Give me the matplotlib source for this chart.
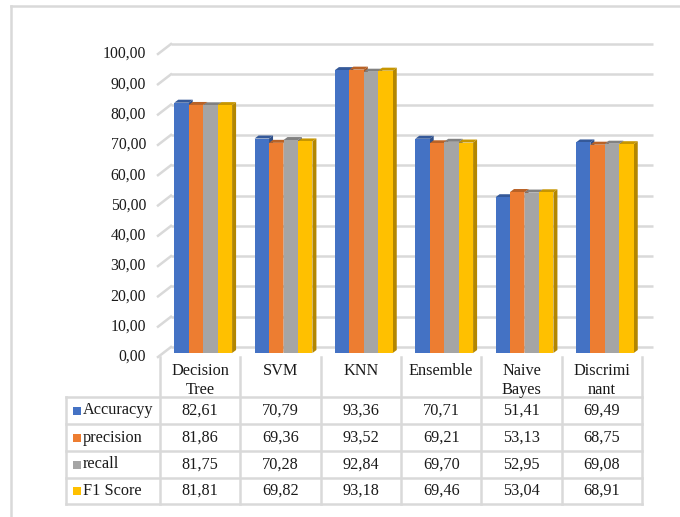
import matplotlib
matplotlib.use("Agg")
import matplotlib.pyplot as plt
import numpy as np
from matplotlib.patches import Polygon, Rectangle
from matplotlib.transforms import offset_copy, IdentityTransform
from matplotlib.colors import to_rgb

plt.rcParams['font.family'] = ['Liberation Serif', 'DejaVu Serif']

categories = ["Decision Tree", "SVM", "KNN", "Ensemble", "Naive Bayes", "Discriminant"]
header_lines = [["Decision", "Tree"], ["SVM"], ["KNN"], ["Ensemble"], ["Naive", "Bayes"], ["Discrimi", "nant"]]
series_names = ["Accuracyy", "precision", "recall", "F1 Score"]
accuracy = [82.61, 70.79, 93.36, 70.71, 51.41, 69.49]
precision = [81.86, 69.36, 93.52, 69.21, 53.13, 68.75]
recall = [81.75, 70.28, 92.84, 69.70, 52.95, 69.08]
f1_score = [81.81, 69.82, 93.18, 69.46, 53.04, 68.91]
series_values = [accuracy, precision, recall, f1_score]
colors = ["#4472C4", "#ED7D31", "#A5A5A5", "#FFC000"]
yticks = list(range(0, 101, 10))

W, H = 680, 517
fig = plt.figure(figsize=(W / 100, H / 100), dpi=100)
fig.patch.set_facecolor("white")
txt_c = "#1a1a1a"

def shade(c, f):
    r, g, b = to_rgb(c)
    return (r * f, g * f, b * f)

# back wall axes
ax = fig.add_axes([171 / W, 1 - 347 / H, 482 / W, 303 / H])
ax.set_xlim(0, 6)
ax.set_ylim(0, 100)
ax.axis("off")

grid_c = "#D9D9D9"
wall_off = np.array([-13.0, -10.0])
bar_off = np.array([-8.0, -6.0])
depth = np.array([4.0, 3.0])

fig.canvas.draw()
for v in yticks:
    ax.plot([0, 6], [v, v], color=grid_c, lw=1.8, solid_capstyle="butt", zorder=1, clip_on=False)
    p = ax.transData.transform((0, v))
    ax.plot([p[0] + wall_off[0], p[0]], [p[1] + wall_off[1], p[1]], color=grid_c, lw=1.8,
            transform=IdentityTransform(), zorder=1, clip_on=False)
    ax.text(0, v, f"{v:.2f}".replace(".", ","), transform=offset_copy(ax.get_yaxis_transform(), fig=fig, x=-25, y=-10, units="dots"),
            ha="right", va="center", fontsize=11.3, color=txt_c)

front_tr = offset_copy(ax.transData, fig=fig, x=bar_off[0], y=bar_off[1], units="dots")
bw = 0.18
x = np.arange(len(categories))
for i, (vals, c) in enumerate(zip(series_values, colors)):
    lefts = x + 0.14 + i * bw
    ax.bar(lefts, vals, width=bw, align="edge", color=c, transform=front_tr,
           zorder=4 + 2 * i, clip_on=False, linewidth=0)
    for l, v in zip(lefts, vals):
        tl = ax.transData.transform((l, v)) + bar_off
        tr = ax.transData.transform((l + bw, v)) + bar_off
        br = ax.transData.transform((l + bw, 0)) + bar_off
        top = Polygon([tl, tr, tr + depth, tl + depth], closed=True, facecolor=shade(c, 0.78),
                      edgecolor="none", transform=IdentityTransform(), zorder=3 + 2 * i, clip_on=False)
        side = Polygon([tr, br, br + depth, tr + depth], closed=True, facecolor=shade(c, 0.7),
                       edgecolor="none", transform=IdentityTransform(), zorder=3 + 2 * i, clip_on=False)
        ax.add_patch(top)
        ax.add_patch(side)

# table in pixel coordinates
tx = fig.add_axes([0, 0, 1, 1], zorder=-1)
tx.set_xlim(0, W)
tx.set_ylim(H, 0)
tx.axis("off")

col_edges = [ax.transData.transform((k, 0))[0] - 11 for k in range(len(categories) + 1)]
label_left = 66
row_edges = [397, 424, 451, 478, 504]
head_top = 357
lc = "#D9D9D9"
lw = 1.8
fs = 11.7

for xe in col_edges:
    tx.plot([xe, xe], [head_top, row_edges[-1]], color=lc, lw=lw)
tx.plot([label_left, label_left], [row_edges[0], row_edges[-1]], color=lc, lw=lw)
for ye in row_edges:
    tx.plot([label_left, col_edges[-1]], [ye, ye], color=lc, lw=lw)

for k, lines in enumerate(header_lines):
    cx = (col_edges[k] + col_edges[k + 1]) / 2
    for n, t in enumerate(lines):
        tx.text(cx, 371 + 19 * n, t, ha="center", va="center", fontsize=fs, color=txt_c)

for r, (name, vals, c) in enumerate(zip(series_names, series_values, colors)):
    cy = (row_edges[r] + row_edges[r + 1]) / 2
    tx.add_patch(Rectangle((73, cy - 4), 8, 8, facecolor=c, edgecolor="none"))
    tx.text(83, cy, name, ha="left", va="center", fontsize=fs, color=txt_c)
    for k, v in enumerate(vals):
        cx = (col_edges[k] + col_edges[k + 1]) / 2
        tx.text(cx, cy, f"{v:.2f}".replace(".", ","), ha="center", va="center", fontsize=fs, color=txt_c)

# outer chart border (top and left visible)
tx.plot([11, 11], [6, H], color=lc, lw=1.8)
tx.plot([11, W], [6, 6], color=lc, lw=1.8)

fig.savefig("out.png", dpi=100)
